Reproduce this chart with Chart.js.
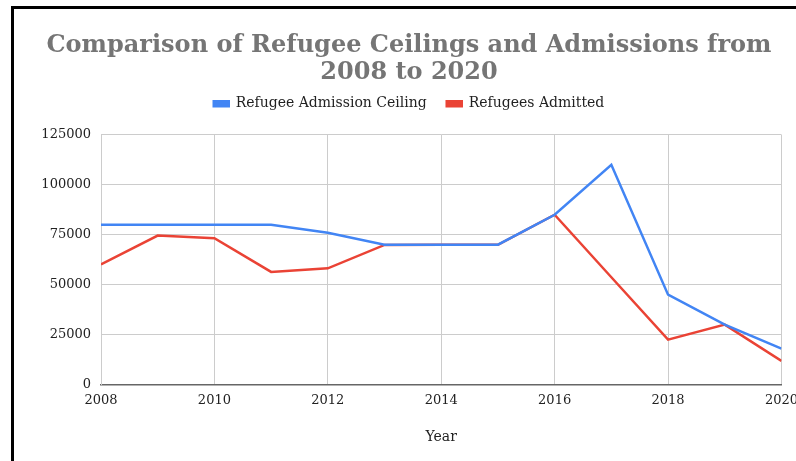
<!DOCTYPE html>
<html>
<head>
<meta charset="utf-8">
<script src="https://cdn.jsdelivr.net/npm/chart.js@4"></script>
<style>
  html, body { margin: 0; padding: 0; background: #fff; overflow: hidden; }
  #frame {
    position: absolute;
    left: 11px;
    top: 6px;
    width: 792px;
    height: 470px;
    border-left: 3px solid #000;
    border-top: 3px solid #000;
  }
  #chart { display: block; }
</style>
</head>
<body>
<div id="frame">
  <canvas id="chart" width="790" height="456"></canvas>
</div>
<script>
// Data
const years = [2008, 2009, 2010, 2011, 2012, 2013, 2014, 2015, 2016, 2017, 2018, 2019, 2020];
const ceiling = [80000, 80000, 80000, 80000, 76000, 70000, 70000, 70000, 85000, 110000, 45000, 30000, 18000];
const admitted = [60108, 74602, 73293, 56384, 58179, 69909, 69933, 69920, 84989, 53716, 22491, 30000, 11814];
const yTicks = [0, 25000, 50000, 75000, 100000, 125000];

const serif = 'Georgia, "DejaVu Serif", serif';

function points(values) {
    return years.map((yr, i) => ({ x: yr, y: values[i] }));
}

// extra room under the legend
const legendGap = {
    id: 'legendGap',
    beforeInit(chart) {
        const fit = chart.legend.fit;
        chart.legend.fit = function() {
            fit.call(this);
            this.height += 14;
        };
    }
};

const ctx = document.getElementById('chart').getContext('2d');
const chart = new Chart(ctx, {
    type: 'line',
    data: {
        datasets: [{
            label: 'Refugee Admission Ceiling',
            data: points(ceiling),
            borderColor: '#4285F4',
            backgroundColor: '#4285F4',
            borderWidth: 2.5,
            pointRadius: 0,
            tension: 0
        }, {
            label: 'Refugees Admitted',
            data: points(admitted),
            borderColor: '#EA4335',
            backgroundColor: '#EA4335',
            borderWidth: 2.5,
            pointRadius: 0,
            tension: 0
        }]
    },
    plugins: [legendGap],
    options: {
        responsive: false,
        animation: false,
        layout: {
            padding: { left: 0, right: 0, top: 0, bottom: 15 }
        },
        plugins: {
            title: {
                display: true,
                text: ['Comparison of Refugee Ceilings and Admissions from', '2008 to 2020'],
                color: '#757575',
                font: { family: serif, size: 24, weight: 'bold', lineHeight: 1.1 },
                padding: { top: 24, bottom: -9 }
            },
            legend: {
                position: 'top',
                labels: {
                    color: '#222',
                    font: { family: serif, size: 14 },
                    boxWidth: 15,
                    boxHeight: 5,
                    padding: 20
                }
            },
            tooltip: { enabled: false }
        },
        scales: {
            x: {
                type: 'linear',
                min: 2008,
                max: 2020,
                afterFit: axis => { axis.paddingRight = Math.max(0, axis.paddingRight - 2); },
                title: {
                    display: true,
                    text: 'Year',
                    color: '#222',
                    font: { family: serif, size: 14 },
                    padding: { top: 13 }
                },
                ticks: {
                    stepSize: 2,
                    color: '#222',
                    font: { family: serif, size: 13 },
                    padding: 8,
                    maxRotation: 0,
                    callback: v => String(v)
                },
                grid: { color: '#cccccc', drawTicks: false },
                border: { color: '#666', width: 1.5 }
            },
            y: {
                min: 0,
                max: 125000,
                afterBuildTicks: axis => { axis.ticks = yTicks.map(v => ({ value: v })); },
                afterFit: axis => { axis.width = 87; },
                ticks: {
                    color: '#222',
                    font: { family: serif, size: 13 },
                    padding: 10,
                    callback: v => String(v)
                },
                grid: {
                    color: c => c.tick && c.tick.value === 0 ? '#666' : '#cccccc',
                    drawTicks: false
                },
                border: { color: '#cccccc' }
            }
        }
    }
});
</script>
</body>
</html>
